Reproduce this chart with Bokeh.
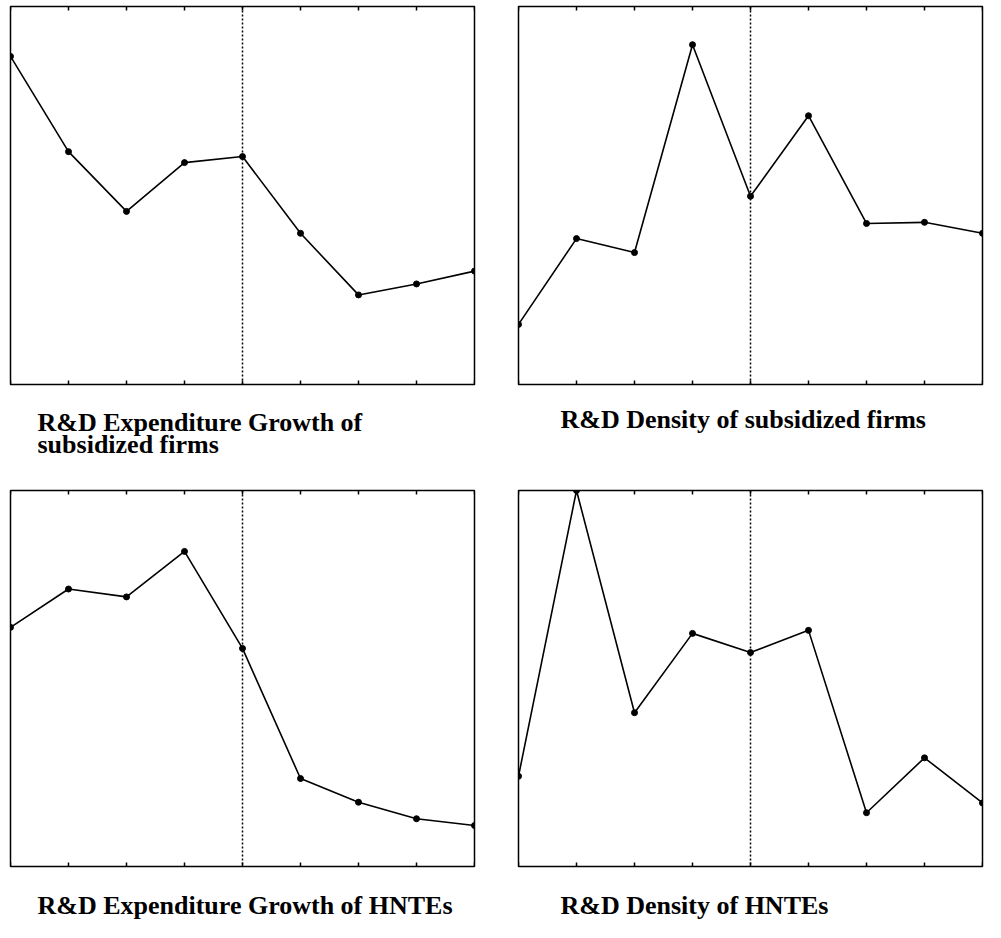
from bokeh.plotting import figure
from bokeh.models import Span, Range1d
from bokeh.layouts import column, row
from bokeh.core.properties import value
from bokeh.embed import file_html
from bokeh.resources import INLINE

# ---- data (relative levels; y axis is unlabeled) ----
periods = [0, 1, 2, 3, 4, 5, 6, 7, 8]
policy_period = 4

exp_growth_subsidized = [86.8, 61.6, 45.8, 58.7, 60.3, 40.0, 23.7, 26.6, 30.0]
density_subsidized = [15.9, 38.6, 34.9, 89.9, 49.8, 71.1, 42.6, 42.9, 40.0]
exp_growth_hntes = [63.6, 73.8, 71.7, 83.8, 58.0, 23.4, 17.1, 12.7, 10.9]
density_hntes = [24.0, 100.0, 40.9, 62.0, 56.9, 62.8, 14.3, 28.9, 16.9]

title_tl = ["R&D Expenditure Growth of", "subsidized firms"]
title_tr = ["R&D Density of subsidized firms"]
title_bl = ["R&D Expenditure Growth of HNTEs"]
title_br = ["R&D Density of HNTEs"]

FONT = "Liberation Serif"
Y0, Y1 = 0, 100


def base_fig(width, height, **kw):
    p = figure(width=width, height=height, output_backend="svg",
               toolbar_location=None, x_axis_location=None,
               y_axis_location=None, **kw)
    p.grid.grid_line_color = None
    p.background_fill_color = "white"
    p.border_fill_color = "white"
    return p


def panel(values, width, height, left, right, top, bottom):
    frame_h = height - top - bottom
    p = base_fig(width, height, x_range=Range1d(0, 8), y_range=Range1d(Y0, Y1),
                 min_border_left=left, min_border_right=right,
                 min_border_top=top, min_border_bottom=bottom)
    p.outline_line_color = "black"
    p.outline_line_width = 1.5
    p.outline_line_alpha = 1.0
    # inward tick marks on top and bottom edges (4 px long)
    tick = 4.0 / frame_h * (Y1 - Y0)
    n = len(periods)
    p.segment(x0=periods, y0=[Y0] * n, x1=periods, y1=[Y0 + tick] * n,
              line_color="black", line_width=1.5)
    p.segment(x0=periods, y0=[Y1] * n, x1=periods, y1=[Y1 - tick] * n,
              line_color="black", line_width=1.5)
    p.add_layout(Span(location=policy_period, dimension="height",
                      line_color="black", line_width=1.5, line_dash="2 2"))
    p.line(periods, values, line_color="black", line_width=1.6)
    p.scatter(periods, values, size=6, fill_color="black", line_color="black")
    return p


def caption(lines, width, height, x, y0, dy=22):
    # pixel-unit canvas (y grows downward) holding the caption text
    p = base_fig(width, height, x_range=Range1d(0, width),
                 y_range=Range1d(height, 0), min_border_left=0,
                 min_border_right=0, min_border_top=0, min_border_bottom=0)
    p.outline_line_color = None
    p.text(x=[x] * len(lines), y=[y0 + dy * i for i in range(len(lines))],
           text=lines, text_font=value(FONT), text_font_size=value("26px"),
           text_font_style="bold", text_color="black",
           text_align="left", text_baseline="alphabetic")
    return p


a = panel(exp_growth_subsidized, 492, 386, 10, 18, 6, 2)
b = panel(density_subsidized, 493, 386, 26, 3, 6, 2)
at = caption(title_tl, 492, 80, 37, 36)
bt = caption(title_tr, 493, 80, 68, 33)

c = panel(exp_growth_hntes, 492, 402, 10, 18, 24, 2)
d = panel(density_hntes, 493, 402, 26, 3, 24, 2)
ct = caption(title_bl, 492, 54, 37, 37)
dt = caption(title_br, 493, 54, 68, 37)

layout = column(row(a, b), row(at, bt), row(c, d), row(ct, dt))
open("out.html", "w").write(file_html(layout, INLINE))
